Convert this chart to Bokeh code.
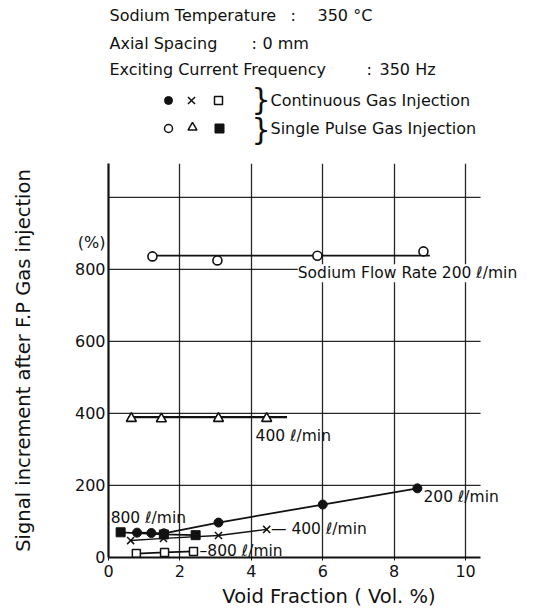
from bokeh.core.properties import value
from bokeh.embed import file_html
from bokeh.layouts import column
from bokeh.models import FixedTicker, Label, Range1d
from bokeh.plotting import figure
from bokeh.resources import INLINE

FONT = "DejaVu Sans"
INK = "#111111"

# ---- measured series: void fraction (vol.%) vs. signal increment (%) ----
# continuous gas injection
cont_200_x = [0.8, 1.2, 1.55, 3.08, 6.0, 8.65]          # filled circles
cont_200_y = [69, 68, 67, 97, 147, 192]
cont_400_x = [0.62, 1.54, 3.08, 4.43]                    # crosses
cont_400_y = [47, 53, 61, 78]
cont_800_x = [0.78, 1.57, 2.38]                          # open squares
cont_800_y = [11, 14, 17]

# single pulse gas injection
pulse_200_x = [1.23, 3.05, 5.85, 8.82]                   # open circles
pulse_200_y = [836, 825, 838, 850]
pulse_200_fit_x = [1.23, 9.0]
pulse_200_fit_y = [838, 838]
pulse_400_x = [0.64, 1.48, 3.08, 4.43]                   # triangles
pulse_400_y = [386, 385, 386, 386]
pulse_400_fit_x = [0.55, 5.0]
pulse_400_fit_y = [390, 390]
pulse_800_x = [0.34, 1.55, 2.44]                         # filled squares
pulse_800_y = [70, 64, 62]

x_ticks = [0, 2, 4, 6, 8, 10]
x_grid_end = 10.42
y_ticks = [0, 200, 400, 600, 800, 1000]
y_unit_tick = 875
y_tick_labels = {0: "0", 200: "200", 400: "400", 600: "600", 800: "800", 1000: "",
                 y_unit_tick: "(%)"}

# test conditions: name, value
cond_names = ["Sodium Temperature", "Axial Spacing", "Exciting Current Frequency"]
cond_values = ["350 °C", "0 mm", "350 Hz"]
legend_rows = ["Continuous Gas Injection", "Single Pulse Gas Injection"]

LEFT = 108           # width of the strip left of the plotting frame
HEAD_H = 163

# ---- header block with the test conditions and marker key ----
head = figure(width=549, height=HEAD_H, x_range=Range1d(LEFT, 549), y_range=Range1d(HEAD_H, 0),
              output_backend="svg", toolbar_location=None,
              min_border_left=LEFT, min_border_right=0, min_border_top=0, min_border_bottom=0)
head.axis.visible = False
head.grid.visible = False
head.outline_line_color = None

rows_y = [15, 43, 69]
head_font = dict(text_font=value(FONT), text_font_size="16px", text_baseline="middle",
                 text_color=INK)
head.text(x=[109] * 3, y=rows_y, text=cond_names, **head_font)
head.text(x=[290, 251, 366], y=rows_y, text=[":"] * 3, **head_font)
head.text(x=[317, 262, 379], y=rows_y, text=cond_values, **head_font)
head.text(x=[270, 270], y=[100, 128], text=legend_rows, text_font=value(FONT),
          text_font_size="16px", text_baseline="middle", text_color=INK)
head.text(x=[251, 251], y=[99, 129], text=["}", "}"], text_font=value(FONT),
          text_font_size="30px", text_baseline="middle", text_color=INK)

head.scatter([168], [100], marker="circle", size=8, color=INK)
head.scatter([191], [100], marker="x", size=10, line_color=INK, line_width=1.5)
head.scatter([218], [100], marker="square", size=8, line_color=INK, fill_color="white", line_width=1.5)
head.scatter([168], [128], marker="circle", size=8, line_color=INK, fill_color="white", line_width=1.5)
head.scatter([192], [127], marker="triangle", size=9, line_color=INK, fill_color="white", line_width=1.5)
head.scatter([219], [128], marker="square", size=9, color=INK)

# ---- main chart ----
p = figure(width=549, height=613 - HEAD_H, x_range=Range1d(0, 12.35), y_range=Range1d(0, 1094),
           output_backend="svg", toolbar_location=None,
           min_border_left=LEFT, min_border_right=0, min_border_top=0, min_border_bottom=56)
p.outline_line_color = None

p.xaxis.ticker = FixedTicker(ticks=x_ticks)
p.xaxis.bounds = (0, x_grid_end)
p.yaxis.ticker = FixedTicker(ticks=y_ticks + [y_unit_tick])
p.yaxis.major_label_overrides = y_tick_labels
for ax in (p.xaxis, p.yaxis):
    ax.axis_line_width = 2.2
    ax.axis_line_color = INK
    ax.major_tick_in = 0
    ax.major_tick_line_color = INK
    ax.minor_tick_line_color = None
    ax.major_label_text_font = FONT
    ax.major_label_text_font_size = "16px"
    ax.major_label_text_color = INK
    ax.axis_label_text_font = FONT
    ax.axis_label_text_font_size = "19.5px"
    ax.axis_label_text_font_style = "normal"
    ax.axis_label_text_color = INK
p.xaxis.major_tick_out = 3
p.yaxis.major_tick_out = 0
p.xaxis.major_label_standoff = 4
p.yaxis.major_label_standoff = 3
p.xaxis.axis_label = "Void Fraction ( Vol. %)"
p.xaxis.axis_label_standoff = 5
p.yaxis.axis_label = "Signal increment after F.P Gas injection"
p.yaxis.axis_label_standoff = 37

p.ygrid.visible = False
p.xgrid.grid_line_color = INK
p.xgrid.grid_line_width = 1.3
p.xgrid.grid_line_alpha = 0.9
# horizontal rulings stop just past the last vertical one
p.segment(x0=[0] * (len(y_ticks) - 1), x1=[x_grid_end] * (len(y_ticks) - 1),
          y0=y_ticks[1:], y1=y_ticks[1:], line_color=INK, line_width=1.3, line_alpha=0.9)

LW = 1.8
# single pulse, 200 l/min
p.line(pulse_200_fit_x, pulse_200_fit_y, line_color=INK, line_width=LW)
p.scatter(pulse_200_x, pulse_200_y, marker="circle", size=9, line_color=INK,
          fill_color="white", line_width=1.6)
# single pulse, 400 l/min
p.line(pulse_400_fit_x, pulse_400_fit_y, line_color=INK, line_width=2.2)
p.scatter(pulse_400_x, pulse_400_y, marker="triangle", size=10, line_color=INK,
          fill_color="white", line_width=1.6)
# continuous, 200 l/min
p.line(cont_200_x, cont_200_y, line_color=INK, line_width=LW)
p.scatter(cont_200_x, cont_200_y, marker="circle", size=9, color=INK)
# single pulse, 800 l/min
p.line(pulse_800_x, pulse_800_y, line_color=INK, line_width=LW)
p.scatter(pulse_800_x, pulse_800_y, marker="square", size=9, color=INK)
# continuous, 400 l/min
p.line(cont_400_x, cont_400_y, line_color=INK, line_width=1.4)
p.scatter(cont_400_x, cont_400_y, marker="x", size=10, line_color=INK, line_width=1.5)
# continuous, 800 l/min
p.line(cont_800_x, cont_800_y, line_color=INK, line_width=LW)
p.scatter(cont_800_x, cont_800_y, marker="square", size=8, line_color=INK,
          fill_color="white", line_width=1.5)


def note(x, y, text, size="15.5px", **kw):
    p.add_layout(Label(x=x, y=y, text=text, text_font=FONT, text_font_size=size,
                       text_color=INK, text_baseline="middle", **kw))


note(5.3, 789, "Sodium Flow Rate  200 ℓ/min", background_fill_color="white")
note(4.12, 338, "400 ℓ/min")
note(8.82, 167, "200 ℓ/min")
note(4.55, 78, "— 400 ℓ/min")
note(2.55, 19, "–800 ℓ/min")
note(0.06, 111, "800 ℓ/min")

open("out.html", "w").write(file_html(column(head, p), INLINE))
